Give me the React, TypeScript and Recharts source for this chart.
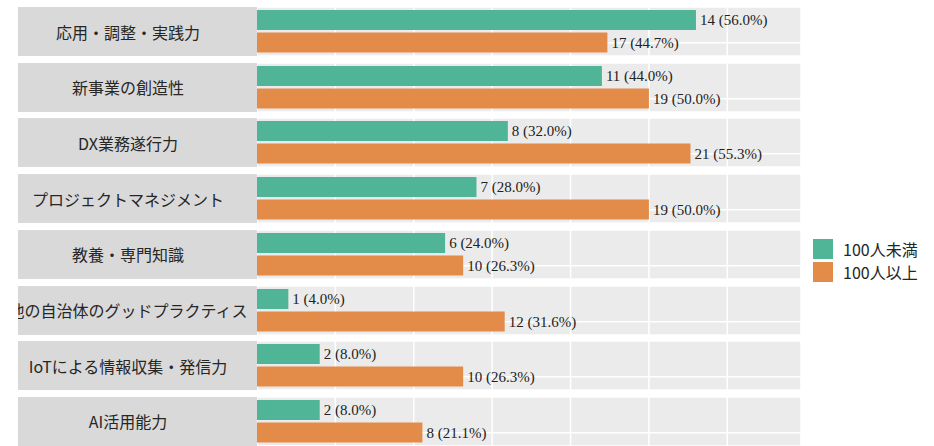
import React from 'react';
import { BarChart, Bar, XAxis, YAxis, CartesianGrid, Cell, LabelList } from 'recharts';

// facet labels (top to bottom)
const categories = [
  '応用・調整・実践力',
  '新事業の創造性',
  'DX業務遂行力',
  'プロジェクトマネジメント',
  '教養・専門知識',
  '他の自治体のグッドプラクティス',
  'IoTによる情報収集・発信力',
  'AI活用能力',
];
const groups = ['100人未満', '100人以上'];
const under100Count = [14, 11, 8, 7, 6, 1, 2, 2];
const under100Pct = [56.0, 44.0, 32.0, 28.0, 24.0, 4.0, 8.0, 8.0];
const over100Count = [17, 19, 21, 19, 10, 12, 10, 8];
const over100Pct = [44.7, 50.0, 55.3, 50.0, 26.3, 31.6, 26.3, 21.1];
const xTicks = [0, 10, 20, 30, 40, 50, 60];

const colors = ['#50B496', '#E38B48'];
const PANEL_W = 544;
const PANEL_H = 49;
const PITCH = 55.7;

const FacetRow = ({ index }: { index: number }) => {
  const data = [
    { group: groups[0], count: under100Count[index], pct: under100Pct[index] },
    { group: groups[1], count: over100Count[index], pct: over100Pct[index] },
  ].map(d => ({ ...d, label: `${d.count} (${d.pct.toFixed(1)}%)` }));

  return (
    <div style={{ position: 'absolute', left: 18, top: 7 + index * PITCH, height: PANEL_H, display: 'flex' }}>
      {/* strip label, long text is clipped at the strip edge */}
      <div style={{ width: 239, height: PANEL_H, background: '#D9D9D9', position: 'relative', overflow: 'hidden' }}>
        <span
          style={{
            position: 'absolute',
            left: 110,
            top: '50%',
            transform: 'translate(-50%, -50%)',
            whiteSpace: 'nowrap',
            fontSize: 16,
            color: '#262626',
          }}
        >
          {categories[index]}
        </span>
      </div>
      <BarChart width={PANEL_W} height={PANEL_H} data={data} layout="vertical" margin={{ top: 0, right: 0, bottom: 0, left: 0 }}>
        <CartesianGrid fill="#EBEBEB" stroke="#FFFFFF" strokeWidth={1.5} />
        <XAxis type="number" domain={[0, 69.4]} ticks={xTicks} hide allowDataOverflow />
        <YAxis type="category" dataKey="group" hide padding={{ top: 2, bottom: 2 }} />
        <Bar dataKey="pct" barSize={20} isAnimationActive={false}>
          {data.map((d, i) => (
            <Cell key={`cell-${i}`} fill={colors[i]} />
          ))}
          <LabelList
            dataKey="label"
            position="right"
            offset={4}
            style={{ fill: '#222222', fontFamily: '"Liberation Serif", "Times New Roman", serif', fontSize: 15 }}
          />
        </Bar>
      </BarChart>
    </div>
  );
};

export default function App() {
  return (
    <div
      style={{
        position: 'absolute',
        top: 0,
        left: 0,
        width: 934,
        height: 446,
        background: '#FFFFFF',
        overflow: 'hidden',
        fontFamily: '"Noto Sans CJK JP", "Noto Sans", sans-serif',
      }}
    >
      {categories.map((c, i) => (
        <FacetRow key={c} index={i} />
      ))}
      {/* legend */}
      {groups.map((g, i) => (
        <div key={g} style={{ position: 'absolute', left: 813, top: 239 + i * 23, height: 20, display: 'flex', alignItems: 'center' }}>
          <div style={{ width: 20, height: 20, background: colors[i] }} />
          <span style={{ marginLeft: 10, fontSize: 16, color: '#262626', whiteSpace: 'nowrap' }}>{g}</span>
        </div>
      ))}
    </div>
  );
}
